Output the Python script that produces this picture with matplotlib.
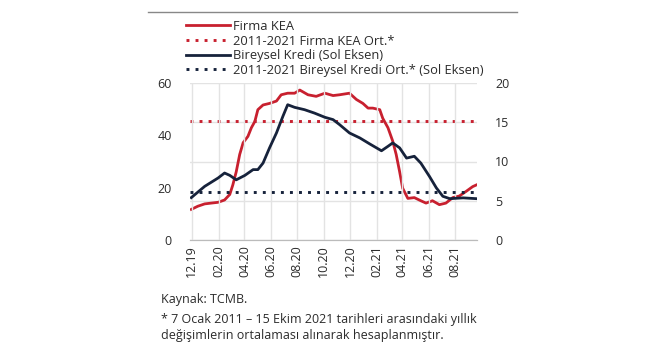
import matplotlib
matplotlib.use("Agg")
import matplotlib.pyplot as plt
import numpy as np
import pandas as pd
from matplotlib.lines import Line2D

plt.rcParams['font.family'] = ['Open Sans', 'DejaVu Sans']

RED = '#c8202f'
NAVY = '#16223b'
TXT = '#2b2b2b'

# Firma KEA (sag eksen)
kea_dates = ['2019-11-30', '2019-12-15', '2019-12-31', '2020-01-15', '2020-01-31', '2020-02-15',
             '2020-02-27', '2020-03-05', '2020-03-13', '2020-03-21', '2020-03-29', '2020-04-09',
             '2020-04-17', '2020-04-25', '2020-05-02', '2020-05-14', '2020-05-29', '2020-06-14',
             '2020-06-25', '2020-07-10', '2020-07-26', '2020-08-07', '2020-08-26', '2020-09-14',
             '2020-10-04', '2020-10-23', '2020-11-07', '2020-11-30', '2020-12-16', '2020-12-31',
             '2021-01-12', '2021-01-23', '2021-02-08', '2021-02-15', '2021-02-27', '2021-03-10',
             '2021-03-18', '2021-03-26', '2021-04-02', '2021-04-14', '2021-04-29', '2021-05-14',
             '2021-05-26', '2021-06-10', '2021-06-26', '2021-07-11', '2021-07-27', '2021-08-11',
             '2021-08-27', '2021-09-11', '2021-09-19']
kea_vals = [3.9, 4.3, 4.6, 4.7, 4.8, 5.1, 5.8, 7.0, 8.7, 10.9, 12.4, 13.2,
            14.3, 15.1, 16.6, 17.2, 17.4, 17.7, 18.5, 18.7, 18.7, 19.1, 18.5, 18.3,
            18.7, 18.4, 18.5, 18.7, 17.9, 17.4, 16.8, 16.8, 16.6, 15.5, 14.3, 12.6,
            10.9, 8.7, 6.6, 5.3, 5.4, 5.0, 4.7, 5.0, 4.5, 4.7, 5.4, 5.6,
            6.2, 6.8, 7.0]
kea_avg = 15.2

# Bireysel Kredi (sol eksen)
bk_dates = ['2019-11-30', '2019-12-31', '2020-01-31', '2020-02-15', '2020-02-27', '2020-03-13',
            '2020-04-02', '2020-04-21', '2020-05-02', '2020-05-14', '2020-05-29', '2020-06-14',
            '2020-06-29', '2020-07-10', '2020-07-26', '2020-08-18', '2020-09-10', '2020-10-04',
            '2020-10-23', '2020-11-07', '2020-11-30', '2020-12-24', '2021-01-16', '2021-02-12',
            '2021-02-27', '2021-03-10', '2021-03-26', '2021-04-11', '2021-04-29', '2021-05-14',
            '2021-06-03', '2021-06-19', '2021-07-04', '2021-07-20', '2021-08-20', '2021-09-19']
bk_vals = [16.2, 20.5, 23.7, 25.6, 24.7, 23.0, 24.7, 26.9, 26.9, 29.4, 35.2, 40.9,
           47.3, 51.7, 50.7, 49.8, 48.5, 46.9, 46.0, 44.1, 40.9, 39.0, 36.7, 34.1,
           35.8, 37.1, 35.2, 31.3, 32.0, 29.4, 24.3, 19.9, 16.7, 15.8, 16.1, 15.8]
bk_avg = 18.2

tick_dates = ['2019-12-01', '2020-02-01', '2020-04-01', '2020-06-01', '2020-08-01', '2020-10-01',
              '2020-12-01', '2021-02-01', '2021-04-01', '2021-06-01', '2021-08-01']

DOT = (0, (1, 2.1))

fig = plt.figure(figsize=(6.5, 3.6), dpi=100)
ax1 = fig.add_axes([190 / 650, 1 - 240 / 360, 287 / 650, 157 / 360])
ax2 = ax1.twinx()
ax1.set_zorder(ax2.get_zorder() + 1)
ax1.patch.set_visible(False)

kx = pd.to_datetime(kea_dates)
bx = pd.to_datetime(bk_dates)

ax2.plot(kx, kea_vals, color=RED, lw=2)
ax2.axhline(kea_avg, color=RED, lw=2.1, linestyle=DOT)
ax1.plot(bx, bk_vals, color=NAVY, lw=2)
ax1.axhline(bk_avg, color=NAVY, lw=2.1, linestyle=DOT)

ax1.set_ylim(0, 60)
ax1.set_yticks([0, 20, 40, 60])
ax2.set_ylim(0, 20)
ax2.set_yticks([0, 5, 10, 15, 20])
ax1.set_xlim(pd.Timestamp('2019-11-27'), pd.Timestamp('2021-09-21'))
ticks = pd.to_datetime(tick_dates)
ax1.set_xticks(ticks)
ax1.set_xticklabels([t.strftime('%m.%y') for t in ticks], rotation=90)

ax2.grid(axis='y', color='#e3e3e3', lw=1)
ax2.set_axisbelow(True)
ax1.grid(axis='x', color='#e3e3e3', lw=1)
ax1.set_axisbelow(True)

for a in (ax1, ax2):
    for s in ['top', 'left', 'right']:
        a.spines[s].set_visible(False)
    a.spines['bottom'].set_color('#bbbbbb')
    a.tick_params(length=0, labelsize=9, colors=TXT)
ax1.tick_params(axis='y', pad=13)
ax2.tick_params(axis='y', pad=13)
ax1.tick_params(axis='x', pad=4)

handles = [Line2D([], [], color=RED, lw=2),
           Line2D([], [], color=RED, lw=2.1, linestyle=DOT),
           Line2D([], [], color=NAVY, lw=2),
           Line2D([], [], color=NAVY, lw=2.1, linestyle=DOT)]
labels = ['Firma KEA', '2011-2021 Firma KEA Ort.*', 'Bireysel Kredi (Sol Eksen)',
          '2011-2021 Bireysel Kredi Ort.* (Sol Eksen)']
fig.legend(handles, labels, loc='upper left', bbox_to_anchor=(186 / 650, 1 - 20 / 360),
           frameon=False, fontsize=9.3, handlelength=3.4, handletextpad=0.25,
           labelspacing=0.12, borderpad=0, borderaxespad=0, labelcolor=TXT)

fig.add_artist(Line2D([148 / 650, 517 / 650], [1 - 12 / 360, 1 - 12 / 360],
                      color='#888888', lw=1))

fig.text(161 / 650, 1 - 300 / 360, 'Kaynak: TCMB.', fontsize=9, color=TXT, va='center')
fig.text(161 / 650, 1 - 319 / 360, '* 7 Ocak 2011 – 15 Ekim 2021 tarihleri arasındaki yıllık',
         fontsize=9, color=TXT, va='center')
fig.text(161 / 650, 1 - 336 / 360, 'değişimlerin ortalaması alınarak hesaplanmıştır.',
         fontsize=9, color=TXT, va='center')

fig.savefig('out.png', dpi=100)
